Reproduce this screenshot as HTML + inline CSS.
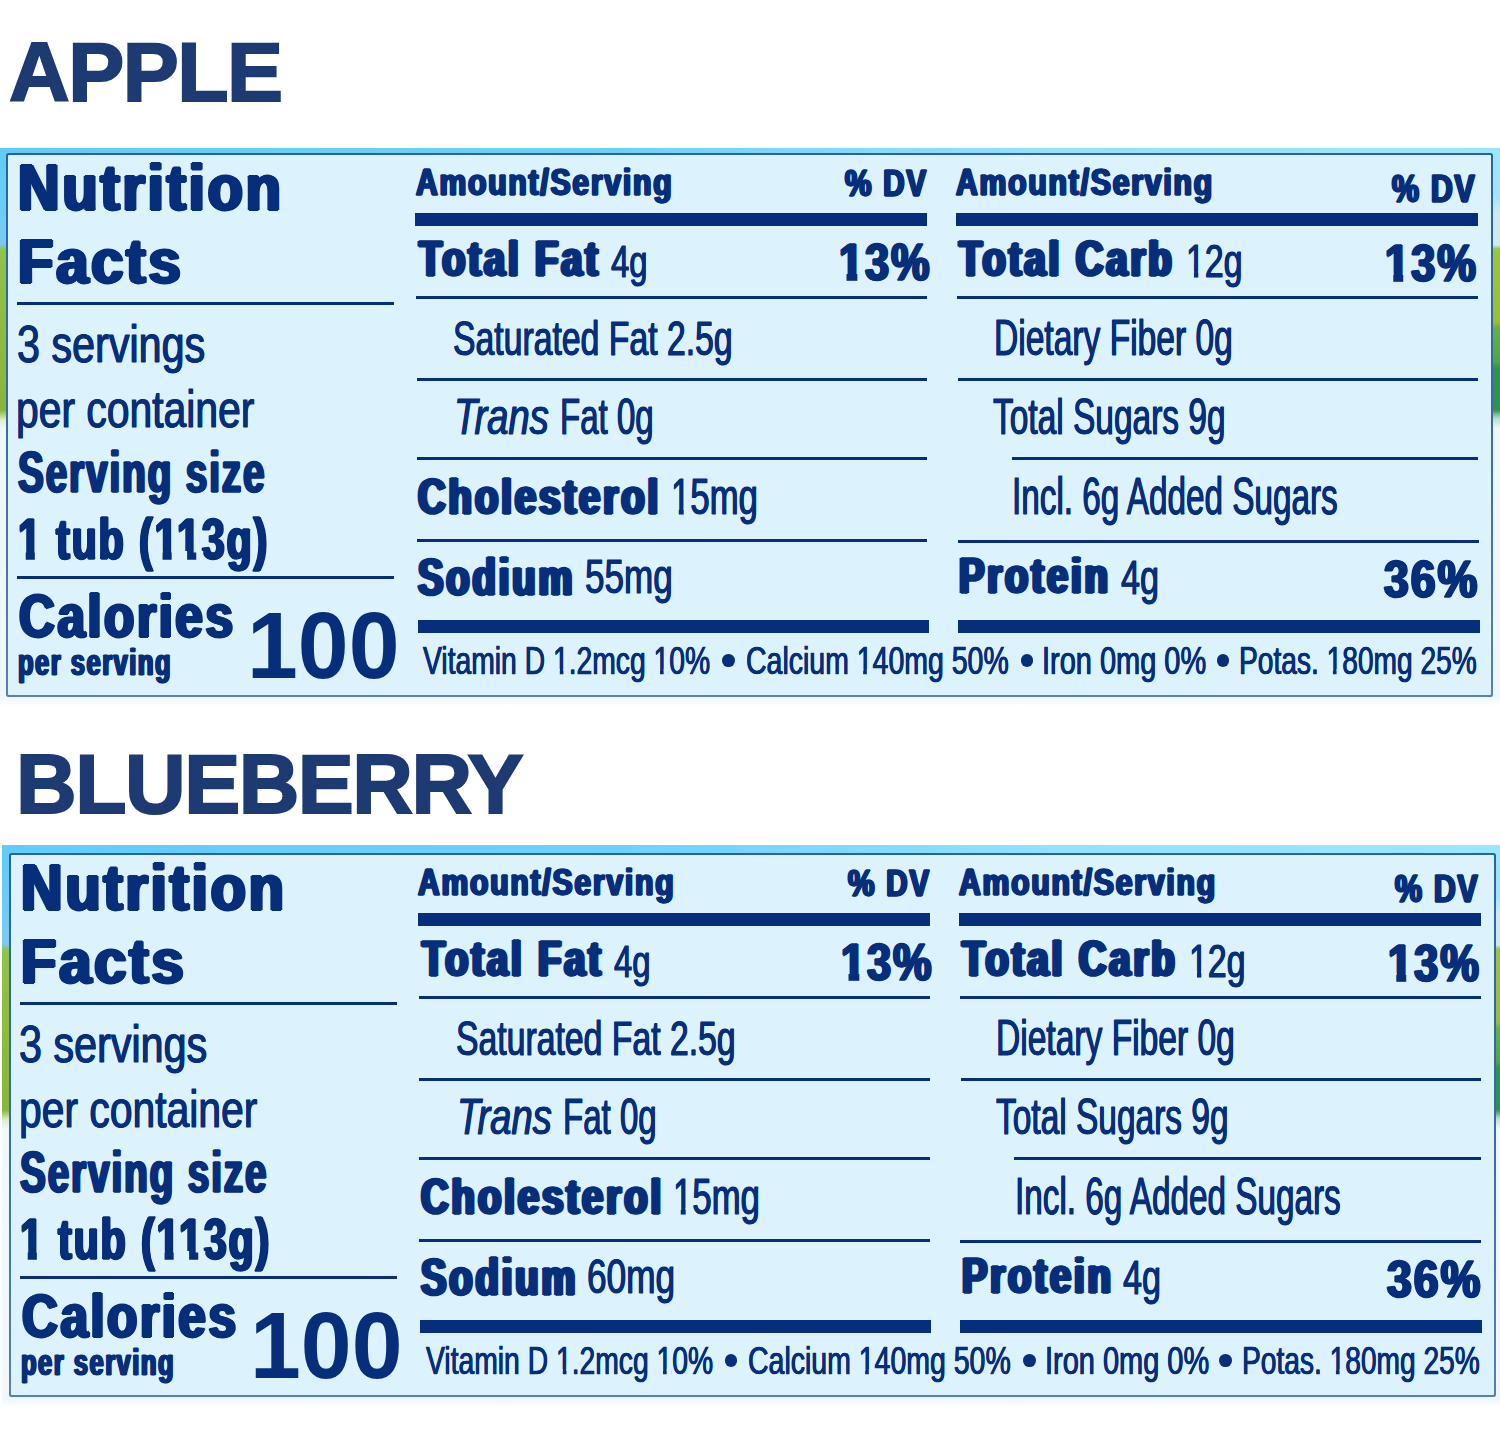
<!DOCTYPE html>
<html lang="en"><head><meta charset="utf-8"><title>Nutrition Facts - Apple / Blueberry</title>
<style>
html,body{margin:0;padding:0;background:#fff;}
body{width:1500px;height:1454px;position:relative;overflow:hidden;font-family:"Liberation Sans",sans-serif;color:#062e7a;}
.t{position:absolute;white-space:nowrap;line-height:1;transform-origin:0 0;font-weight:400;color:#062e7a;}
.b{font-weight:700;}
.i{font-style:italic;}
.r{position:absolute;background:#062e7a;}
.k{position:absolute;background:#dcf2fd;}
.dot{position:absolute;width:12.8px;height:12.8px;border-radius:50%;background:#062e7a;}
.box{position:absolute;box-sizing:border-box;background:linear-gradient(180deg,#2a62a0 0%,#3a6ba5 50%,#5a7fb0 100%);border-radius:2.5px;}
.box:before{content:"";position:absolute;left:2.1px;top:2.1px;right:2.1px;bottom:2.1px;background:#dcf2fd;border-radius:1px;}
.photo{position:absolute;overflow:hidden;background:linear-gradient(180deg,#7fd4f8 0px,#8fdcfa 6px,#eef7fc 7px,#eef7fc 100%);}
.photo:before{content:"";position:absolute;left:0;right:0;top:0;height:8px;background:linear-gradient(90deg,#62cbf9 0%,#6dd0fa 40%,#93e1fb 70%,#9ae6fc 100%);}
.photo:after{content:"";position:absolute;left:0;right:0;bottom:0;height:11px;background:linear-gradient(180deg,#edf6fc 0,#f5fafe 60%,#ffffff 100%);}
.ls{position:absolute;left:0;width:12px;height:285px;background:linear-gradient(180deg,#62cbf9 0,#6ccdf8 60px,#7cc8ef 96px,#8dc44b 102px,#8fbc3c 180px,#86b63a 262px,#dfeecb 272px,#eef7fc 280px);}
.rs{position:absolute;right:0;width:12px;height:285px;background:linear-gradient(180deg,#9ae6fc 0,#a4e3f9 48px,#cfe9f2 66px,#cfe9f2 97px,#9cc43e 101px,#97bf3a 174px,#62b24a 180px,#4fa648 214px,#2f9350 220px,#2f9350 262px,#b9dcc4 270px,#eef7fc 280px);}
svg.h{position:absolute;left:0;top:0;}
</style></head>
<body>
<div class="photo" style="left:0px;top:148px;width:1500px;height:558px"><div class="ls" style="top:0.0px"></div><div class="rs" style="top:0.0px"></div></div>
<div class="box" style="left:6.00px;top:153.00px;width:1487.40px;height:544.30px"></div>
<span class="t b" style="left:17.92px;top:156.00px;font-size:64.24px;transform:scaleX(0.8940);-webkit-text-stroke:1.80px #062e7a;letter-spacing:3.30px;text-shadow:2.20px 0 0 #062e7a,-2.20px 0 0 #062e7a,1.10px 0 0 #062e7a,-1.10px 0 0 #062e7a;">Nutrition</span>
<span class="t b" style="left:17.94px;top:229.00px;font-size:63.66px;transform:scaleX(0.9060);-webkit-text-stroke:1.80px #062e7a;letter-spacing:3.30px;text-shadow:2.20px 0 0 #062e7a,-2.20px 0 0 #062e7a,1.10px 0 0 #062e7a,-1.10px 0 0 #062e7a;">Facts</span>
<span class="t" style="left:16.65px;top:318.00px;font-size:51.98px;transform:scaleX(0.7945);-webkit-text-stroke:0.90px #062e7a;text-shadow:0.45px 0 0 #062e7a,-0.45px 0 0 #062e7a;">3 servings</span>
<span class="t" style="left:16.49px;top:383.00px;font-size:51.98px;transform:scaleX(0.7857);-webkit-text-stroke:0.90px #062e7a;text-shadow:0.45px 0 0 #062e7a,-0.45px 0 0 #062e7a;">per container</span>
<span class="t b" style="left:17.74px;top:444.00px;font-size:57.06px;transform:scaleX(0.6768);-webkit-text-stroke:1.40px #062e7a;letter-spacing:2.85px;text-shadow:1.90px 0 0 #062e7a,-1.90px 0 0 #062e7a,0.95px 0 0 #062e7a,-0.95px 0 0 #062e7a;">Serving size</span>
<span class="t b" style="left:17.65px;top:510.00px;font-size:58.28px;transform:scaleX(0.7017);-webkit-text-stroke:1.40px #062e7a;letter-spacing:2.85px;text-shadow:1.90px 0 0 #062e7a,-1.90px 0 0 #062e7a,0.95px 0 0 #062e7a,-0.95px 0 0 #062e7a;">1 tub (113g)<i class="k" style="left:-1.53px;top:40.76px;width:12.36px;height:10.54px"></i><i class="k" style="left:24.37px;top:40.76px;width:11.60px;height:10.54px"></i><i class="k" style="left:193.23px;top:40.76px;width:12.36px;height:10.54px"></i><i class="k" style="left:219.13px;top:40.76px;width:11.60px;height:10.54px"></i><i class="k" style="left:228.50px;top:40.76px;width:12.36px;height:10.54px"></i><i class="k" style="left:254.40px;top:40.76px;width:10.00px;height:10.54px"></i></span>
<span class="t b" style="left:18.98px;top:586.00px;font-size:61.10px;transform:scaleX(0.8101);-webkit-text-stroke:1.80px #062e7a;letter-spacing:3.30px;text-shadow:2.20px 0 0 #062e7a,-2.20px 0 0 #062e7a,1.10px 0 0 #062e7a,-1.10px 0 0 #062e7a;">Calories</span>
<span class="t b" style="left:17.94px;top:644.00px;font-size:37.59px;transform:scaleX(0.6775);-webkit-text-stroke:1.20px #062e7a;letter-spacing:2.25px;text-shadow:1.50px 0 0 #062e7a,-1.50px 0 0 #062e7a,0.75px 0 0 #062e7a,-0.75px 0 0 #062e7a;">per serving</span>
<span class="t b" style="left:247.44px;top:599.00px;font-size:94.19px;transform:scaleX(0.9701);">100</span>
<div class="r" style="left:17.40px;top:301.50px;width:376.60px;height:3.00px"></div>
<div class="r" style="left:17.40px;top:575.70px;width:376.60px;height:3.20px"></div>
<span class="t b" style="left:415.58px;top:164.00px;font-size:37.35px;transform:scaleX(0.8048);-webkit-text-stroke:1.30px #062e7a;letter-spacing:2.25px;text-shadow:1.50px 0 0 #062e7a,-1.50px 0 0 #062e7a,0.75px 0 0 #062e7a,-0.75px 0 0 #062e7a;">Amount/Serving</span>
<span class="t b" style="left:845.37px;top:165.00px;font-size:37.35px;transform:scaleX(0.7937);-webkit-text-stroke:1.30px #062e7a;letter-spacing:2.25px;text-shadow:1.50px 0 0 #062e7a,-1.50px 0 0 #062e7a,0.75px 0 0 #062e7a,-0.75px 0 0 #062e7a;">% DV</span>
<div class="r" style="left:415.40px;top:213.40px;width:512.00px;height:12.80px"></div>
<span class="t b" style="left:418.87px;top:235.00px;font-size:49.85px;transform:scaleX(0.7567);-webkit-text-stroke:1.70px #062e7a;letter-spacing:4.05px;text-shadow:2.70px 0 0 #062e7a,-2.70px 0 0 #062e7a,1.35px 0 0 #062e7a,-1.35px 0 0 #062e7a;">Total Fat</span>
<span class="t" style="left:610.90px;top:239.00px;font-size:45.20px;transform:scaleX(0.7271);-webkit-text-stroke:0.90px #062e7a;text-shadow:0.45px 0 0 #062e7a,-0.45px 0 0 #062e7a;">4g</span>
<span class="t b" style="left:838.73px;top:237.00px;font-size:51.60px;transform:scaleX(0.8338);-webkit-text-stroke:1.50px #062e7a;letter-spacing:2.55px;text-shadow:1.70px 0 0 #062e7a,-1.70px 0 0 #062e7a,0.85px 0 0 #062e7a,-0.85px 0 0 #062e7a;">13%<i class="k" style="left:-1.80px;top:35.39px;width:11.22px;height:9.96px"></i><i class="k" style="left:21.74px;top:35.39px;width:8.95px;height:9.96px"></i></span>
<div class="r" style="left:416.00px;top:295.50px;width:511.00px;height:3.00px"></div>
<span class="t" style="left:453.27px;top:314.00px;font-size:48.87px;transform:scaleX(0.6909);-webkit-text-stroke:0.90px #062e7a;text-shadow:0.45px 0 0 #062e7a,-0.45px 0 0 #062e7a;">Saturated Fat 2.5g</span>
<div class="r" style="left:416.50px;top:377.70px;width:510.50px;height:3.00px"></div>
<span class="t i" style="left:453.85px;top:392.00px;font-size:50.29px;transform:scaleX(0.7593);-webkit-text-stroke:0.90px #062e7a;text-shadow:0.45px 0 0 #062e7a,-0.45px 0 0 #062e7a;">Trans</span>
<span class="t" style="left:560.08px;top:392.00px;font-size:50.29px;transform:scaleX(0.6568);-webkit-text-stroke:0.90px #062e7a;text-shadow:0.45px 0 0 #062e7a,-0.45px 0 0 #062e7a;">Fat 0g</span>
<div class="r" style="left:416.50px;top:456.90px;width:510.50px;height:3.00px"></div>
<span class="t b" style="left:418.10px;top:472.00px;font-size:50.85px;transform:scaleX(0.7500);-webkit-text-stroke:1.70px #062e7a;letter-spacing:4.05px;text-shadow:2.70px 0 0 #062e7a,-2.70px 0 0 #062e7a,1.35px 0 0 #062e7a,-1.35px 0 0 #062e7a;">Cholesterol</span>
<span class="t" style="left:670.59px;top:472.00px;font-size:49.27px;transform:scaleX(0.7051);-webkit-text-stroke:0.90px #062e7a;text-shadow:0.45px 0 0 #062e7a,-0.45px 0 0 #062e7a;">15mg<i class="k" style="left:0.24px;top:36.25px;width:11.07px;height:7.80px"></i><i class="k" style="left:17.80px;top:36.25px;width:9.08px;height:7.80px"></i></span>
<div class="r" style="left:416.50px;top:539.20px;width:510.50px;height:3.00px"></div>
<span class="t b" style="left:418.49px;top:551.00px;font-size:51.98px;transform:scaleX(0.7318);-webkit-text-stroke:1.70px #062e7a;letter-spacing:4.05px;text-shadow:2.70px 0 0 #062e7a,-2.70px 0 0 #062e7a,1.35px 0 0 #062e7a,-1.35px 0 0 #062e7a;">Sodium</span>
<span class="t" style="left:584.75px;top:552.00px;font-size:48.28px;transform:scaleX(0.7266);-webkit-text-stroke:0.90px #062e7a;text-shadow:0.45px 0 0 #062e7a,-0.45px 0 0 #062e7a;">55mg</span>
<div class="r" style="left:417.50px;top:620.30px;width:511.20px;height:13.20px"></div>
<span class="t" style="left:422.90px;top:642.00px;font-size:38.66px;transform:scaleX(0.7315);-webkit-text-stroke:0.60px #062e7a;text-shadow:0.30px 0 0 #062e7a,-0.30px 0 0 #062e7a;">Vitamin D 1.2mcg 10%<i class="k" style="left:177.35px;top:27.20px;width:9.22px;height:6.70px"></i><i class="k" style="left:191.51px;top:27.20px;width:7.31px;height:6.70px"></i><i class="k" style="left:314.87px;top:27.20px;width:9.22px;height:6.70px"></i><i class="k" style="left:329.03px;top:27.20px;width:7.31px;height:6.70px"></i></span>
<span class="t" style="left:745.59px;top:642.00px;font-size:38.66px;transform:scaleX(0.7367);-webkit-text-stroke:0.60px #062e7a;text-shadow:0.30px 0 0 #062e7a,-0.30px 0 0 #062e7a;">Calcium 140mg 50%<i class="k" style="left:150.11px;top:27.20px;width:9.22px;height:6.70px"></i><i class="k" style="left:164.27px;top:27.20px;width:7.31px;height:6.70px"></i></span>
<span class="t" style="left:1042.29px;top:642.00px;font-size:38.66px;transform:scaleX(0.7491);-webkit-text-stroke:0.60px #062e7a;text-shadow:0.30px 0 0 #062e7a,-0.30px 0 0 #062e7a;">Iron 0mg 0%</span>
<span class="t" style="left:1238.83px;top:642.00px;font-size:38.66px;transform:scaleX(0.7280);-webkit-text-stroke:0.60px #062e7a;text-shadow:0.30px 0 0 #062e7a,-0.30px 0 0 #062e7a;">Potas. 180mg 25%<i class="k" style="left:120.08px;top:27.20px;width:9.22px;height:6.70px"></i><i class="k" style="left:134.24px;top:27.20px;width:7.31px;height:6.70px"></i></span>
<span class="dot" style="left:721.90px;top:654.40px"></span>
<span class="dot" style="left:1020.70px;top:654.40px"></span>
<span class="dot" style="left:1216.70px;top:654.40px"></span>
<span class="t b" style="left:955.98px;top:164.00px;font-size:37.35px;transform:scaleX(0.8066);-webkit-text-stroke:1.30px #062e7a;letter-spacing:2.25px;text-shadow:1.50px 0 0 #062e7a,-1.50px 0 0 #062e7a,0.75px 0 0 #062e7a,-0.75px 0 0 #062e7a;">Amount/Serving</span>
<span class="t b" style="left:1391.92px;top:170.00px;font-size:38.81px;transform:scaleX(0.7798);-webkit-text-stroke:1.30px #062e7a;letter-spacing:2.25px;text-shadow:1.50px 0 0 #062e7a,-1.50px 0 0 #062e7a,0.75px 0 0 #062e7a,-0.75px 0 0 #062e7a;">% DV</span>
<div class="r" style="left:956.00px;top:213.40px;width:522.00px;height:12.80px"></div>
<span class="t b" style="left:959.28px;top:235.00px;font-size:49.85px;transform:scaleX(0.7611);-webkit-text-stroke:1.70px #062e7a;letter-spacing:4.05px;text-shadow:2.70px 0 0 #062e7a,-2.70px 0 0 #062e7a,1.35px 0 0 #062e7a,-1.35px 0 0 #062e7a;">Total Carb</span>
<span class="t" style="left:1186.08px;top:238.00px;font-size:46.66px;transform:scaleX(0.7251);-webkit-text-stroke:0.90px #062e7a;text-shadow:0.45px 0 0 #062e7a,-0.45px 0 0 #062e7a;">12g<i class="k" style="left:0.05px;top:33.45px;width:10.62px;height:7.60px"></i><i class="k" style="left:16.91px;top:33.45px;width:8.64px;height:7.60px"></i></span>
<span class="t b" style="left:1385.31px;top:237.00px;font-size:52.18px;transform:scaleX(0.8290);-webkit-text-stroke:1.50px #062e7a;letter-spacing:2.55px;text-shadow:1.70px 0 0 #062e7a,-1.70px 0 0 #062e7a,0.85px 0 0 #062e7a,-0.85px 0 0 #062e7a;">13%<i class="k" style="left:-1.76px;top:36.33px;width:11.32px;height:10.02px"></i><i class="k" style="left:21.96px;top:36.33px;width:9.04px;height:10.02px"></i></span>
<div class="r" style="left:957.00px;top:295.50px;width:521.00px;height:3.00px"></div>
<span class="t" style="left:993.75px;top:313.00px;font-size:50.29px;transform:scaleX(0.6675);-webkit-text-stroke:0.90px #062e7a;text-shadow:0.45px 0 0 #062e7a,-0.45px 0 0 #062e7a;">Dietary Fiber 0g</span>
<div class="r" style="left:958.00px;top:377.70px;width:520.00px;height:3.00px"></div>
<span class="t" style="left:992.87px;top:392.00px;font-size:50.00px;transform:scaleX(0.6694);-webkit-text-stroke:0.90px #062e7a;text-shadow:0.45px 0 0 #062e7a,-0.45px 0 0 #062e7a;">Total Sugars 9g</span>
<div class="r" style="left:1011.50px;top:456.90px;width:466.50px;height:3.00px"></div>
<span class="t" style="left:1011.92px;top:471.00px;font-size:51.60px;transform:scaleX(0.6451);-webkit-text-stroke:0.90px #062e7a;text-shadow:0.45px 0 0 #062e7a,-0.45px 0 0 #062e7a;">Incl. 6g Added Sugars</span>
<div class="r" style="left:957.60px;top:539.50px;width:521.10px;height:3.00px"></div>
<span class="t b" style="left:959.13px;top:551.00px;font-size:50.44px;transform:scaleX(0.7511);-webkit-text-stroke:1.70px #062e7a;letter-spacing:4.05px;text-shadow:2.70px 0 0 #062e7a,-2.70px 0 0 #062e7a,1.35px 0 0 #062e7a,-1.35px 0 0 #062e7a;">Protein</span>
<span class="t" style="left:1120.66px;top:554.00px;font-size:47.53px;transform:scaleX(0.7205);-webkit-text-stroke:0.90px #062e7a;text-shadow:0.45px 0 0 #062e7a,-0.45px 0 0 #062e7a;">4g</span>
<span class="t b" style="left:1383.97px;top:553.00px;font-size:52.05px;transform:scaleX(0.8522);-webkit-text-stroke:1.50px #062e7a;letter-spacing:2.55px;text-shadow:1.70px 0 0 #062e7a,-1.70px 0 0 #062e7a,0.85px 0 0 #062e7a,-0.85px 0 0 #062e7a;">36%</span>
<div class="r" style="left:957.60px;top:620.30px;width:522.10px;height:13.00px"></div>
<div class="photo" style="left:2px;top:845px;width:1498px;height:561.5px"><div class="ls" style="top:3.0px"></div><div class="rs" style="top:3.0px"></div></div>
<div class="box" style="left:8.70px;top:853.00px;width:1487.40px;height:544.30px"></div>
<span class="t b" style="left:20.62px;top:856.00px;font-size:64.24px;transform:scaleX(0.8940);-webkit-text-stroke:1.80px #062e7a;letter-spacing:3.30px;text-shadow:2.20px 0 0 #062e7a,-2.20px 0 0 #062e7a,1.10px 0 0 #062e7a,-1.10px 0 0 #062e7a;">Nutrition</span>
<span class="t b" style="left:20.64px;top:929.00px;font-size:63.66px;transform:scaleX(0.9060);-webkit-text-stroke:1.80px #062e7a;letter-spacing:3.30px;text-shadow:2.20px 0 0 #062e7a,-2.20px 0 0 #062e7a,1.10px 0 0 #062e7a,-1.10px 0 0 #062e7a;">Facts</span>
<span class="t" style="left:19.35px;top:1018.00px;font-size:51.98px;transform:scaleX(0.7945);-webkit-text-stroke:0.90px #062e7a;text-shadow:0.45px 0 0 #062e7a,-0.45px 0 0 #062e7a;">3 servings</span>
<span class="t" style="left:19.19px;top:1083.00px;font-size:51.98px;transform:scaleX(0.7857);-webkit-text-stroke:0.90px #062e7a;text-shadow:0.45px 0 0 #062e7a,-0.45px 0 0 #062e7a;">per container</span>
<span class="t b" style="left:20.44px;top:1144.00px;font-size:57.06px;transform:scaleX(0.6768);-webkit-text-stroke:1.40px #062e7a;letter-spacing:2.85px;text-shadow:1.90px 0 0 #062e7a,-1.90px 0 0 #062e7a,0.95px 0 0 #062e7a,-0.95px 0 0 #062e7a;">Serving size</span>
<span class="t b" style="left:20.35px;top:1210.00px;font-size:58.28px;transform:scaleX(0.7017);-webkit-text-stroke:1.40px #062e7a;letter-spacing:2.85px;text-shadow:1.90px 0 0 #062e7a,-1.90px 0 0 #062e7a,0.95px 0 0 #062e7a,-0.95px 0 0 #062e7a;">1 tub (113g)<i class="k" style="left:-1.53px;top:40.76px;width:12.36px;height:10.54px"></i><i class="k" style="left:24.37px;top:40.76px;width:11.60px;height:10.54px"></i><i class="k" style="left:193.23px;top:40.76px;width:12.36px;height:10.54px"></i><i class="k" style="left:219.13px;top:40.76px;width:11.60px;height:10.54px"></i><i class="k" style="left:228.50px;top:40.76px;width:12.36px;height:10.54px"></i><i class="k" style="left:254.40px;top:40.76px;width:10.00px;height:10.54px"></i></span>
<span class="t b" style="left:21.68px;top:1286.00px;font-size:61.10px;transform:scaleX(0.8101);-webkit-text-stroke:1.80px #062e7a;letter-spacing:3.30px;text-shadow:2.20px 0 0 #062e7a,-2.20px 0 0 #062e7a,1.10px 0 0 #062e7a,-1.10px 0 0 #062e7a;">Calories</span>
<span class="t b" style="left:20.64px;top:1344.00px;font-size:37.59px;transform:scaleX(0.6775);-webkit-text-stroke:1.20px #062e7a;letter-spacing:2.25px;text-shadow:1.50px 0 0 #062e7a,-1.50px 0 0 #062e7a,0.75px 0 0 #062e7a,-0.75px 0 0 #062e7a;">per serving</span>
<span class="t b" style="left:250.14px;top:1299.00px;font-size:94.19px;transform:scaleX(0.9701);">100</span>
<div class="r" style="left:20.10px;top:1001.50px;width:376.60px;height:3.00px"></div>
<div class="r" style="left:20.10px;top:1275.70px;width:376.60px;height:3.20px"></div>
<span class="t b" style="left:418.28px;top:864.00px;font-size:37.35px;transform:scaleX(0.8048);-webkit-text-stroke:1.30px #062e7a;letter-spacing:2.25px;text-shadow:1.50px 0 0 #062e7a,-1.50px 0 0 #062e7a,0.75px 0 0 #062e7a,-0.75px 0 0 #062e7a;">Amount/Serving</span>
<span class="t b" style="left:848.07px;top:865.00px;font-size:37.35px;transform:scaleX(0.7937);-webkit-text-stroke:1.30px #062e7a;letter-spacing:2.25px;text-shadow:1.50px 0 0 #062e7a,-1.50px 0 0 #062e7a,0.75px 0 0 #062e7a,-0.75px 0 0 #062e7a;">% DV</span>
<div class="r" style="left:418.10px;top:913.40px;width:512.00px;height:12.80px"></div>
<span class="t b" style="left:421.57px;top:935.00px;font-size:49.85px;transform:scaleX(0.7567);-webkit-text-stroke:1.70px #062e7a;letter-spacing:4.05px;text-shadow:2.70px 0 0 #062e7a,-2.70px 0 0 #062e7a,1.35px 0 0 #062e7a,-1.35px 0 0 #062e7a;">Total Fat</span>
<span class="t" style="left:613.60px;top:939.00px;font-size:45.20px;transform:scaleX(0.7271);-webkit-text-stroke:0.90px #062e7a;text-shadow:0.45px 0 0 #062e7a,-0.45px 0 0 #062e7a;">4g</span>
<span class="t b" style="left:841.43px;top:937.00px;font-size:51.60px;transform:scaleX(0.8338);-webkit-text-stroke:1.50px #062e7a;letter-spacing:2.55px;text-shadow:1.70px 0 0 #062e7a,-1.70px 0 0 #062e7a,0.85px 0 0 #062e7a,-0.85px 0 0 #062e7a;">13%<i class="k" style="left:-1.80px;top:35.39px;width:11.22px;height:9.96px"></i><i class="k" style="left:21.74px;top:35.39px;width:8.95px;height:9.96px"></i></span>
<div class="r" style="left:418.70px;top:995.50px;width:511.00px;height:3.00px"></div>
<span class="t" style="left:455.97px;top:1014.00px;font-size:48.87px;transform:scaleX(0.6909);-webkit-text-stroke:0.90px #062e7a;text-shadow:0.45px 0 0 #062e7a,-0.45px 0 0 #062e7a;">Saturated Fat 2.5g</span>
<div class="r" style="left:419.20px;top:1077.70px;width:510.50px;height:3.00px"></div>
<span class="t i" style="left:456.55px;top:1092.00px;font-size:50.29px;transform:scaleX(0.7593);-webkit-text-stroke:0.90px #062e7a;text-shadow:0.45px 0 0 #062e7a,-0.45px 0 0 #062e7a;">Trans</span>
<span class="t" style="left:562.78px;top:1092.00px;font-size:50.29px;transform:scaleX(0.6568);-webkit-text-stroke:0.90px #062e7a;text-shadow:0.45px 0 0 #062e7a,-0.45px 0 0 #062e7a;">Fat 0g</span>
<div class="r" style="left:419.20px;top:1156.90px;width:510.50px;height:3.00px"></div>
<span class="t b" style="left:420.80px;top:1172.00px;font-size:50.85px;transform:scaleX(0.7500);-webkit-text-stroke:1.70px #062e7a;letter-spacing:4.05px;text-shadow:2.70px 0 0 #062e7a,-2.70px 0 0 #062e7a,1.35px 0 0 #062e7a,-1.35px 0 0 #062e7a;">Cholesterol</span>
<span class="t" style="left:673.29px;top:1172.00px;font-size:49.27px;transform:scaleX(0.7051);-webkit-text-stroke:0.90px #062e7a;text-shadow:0.45px 0 0 #062e7a,-0.45px 0 0 #062e7a;">15mg<i class="k" style="left:0.24px;top:36.25px;width:11.07px;height:7.80px"></i><i class="k" style="left:17.80px;top:36.25px;width:9.08px;height:7.80px"></i></span>
<div class="r" style="left:419.20px;top:1239.20px;width:510.50px;height:3.00px"></div>
<span class="t b" style="left:421.19px;top:1251.00px;font-size:51.98px;transform:scaleX(0.7318);-webkit-text-stroke:1.70px #062e7a;letter-spacing:4.05px;text-shadow:2.70px 0 0 #062e7a,-2.70px 0 0 #062e7a,1.35px 0 0 #062e7a,-1.35px 0 0 #062e7a;">Sodium</span>
<span class="t" style="left:587.07px;top:1253.00px;font-size:47.60px;transform:scaleX(0.7402);-webkit-text-stroke:0.90px #062e7a;text-shadow:0.45px 0 0 #062e7a,-0.45px 0 0 #062e7a;">60mg</span>
<div class="r" style="left:420.20px;top:1320.30px;width:511.20px;height:13.20px"></div>
<span class="t" style="left:425.60px;top:1342.00px;font-size:38.66px;transform:scaleX(0.7315);-webkit-text-stroke:0.60px #062e7a;text-shadow:0.30px 0 0 #062e7a,-0.30px 0 0 #062e7a;">Vitamin D 1.2mcg 10%<i class="k" style="left:177.35px;top:27.20px;width:9.22px;height:6.70px"></i><i class="k" style="left:191.51px;top:27.20px;width:7.31px;height:6.70px"></i><i class="k" style="left:314.87px;top:27.20px;width:9.22px;height:6.70px"></i><i class="k" style="left:329.03px;top:27.20px;width:7.31px;height:6.70px"></i></span>
<span class="t" style="left:748.29px;top:1342.00px;font-size:38.66px;transform:scaleX(0.7367);-webkit-text-stroke:0.60px #062e7a;text-shadow:0.30px 0 0 #062e7a,-0.30px 0 0 #062e7a;">Calcium 140mg 50%<i class="k" style="left:150.11px;top:27.20px;width:9.22px;height:6.70px"></i><i class="k" style="left:164.27px;top:27.20px;width:7.31px;height:6.70px"></i></span>
<span class="t" style="left:1044.99px;top:1342.00px;font-size:38.66px;transform:scaleX(0.7491);-webkit-text-stroke:0.60px #062e7a;text-shadow:0.30px 0 0 #062e7a,-0.30px 0 0 #062e7a;">Iron 0mg 0%</span>
<span class="t" style="left:1241.53px;top:1342.00px;font-size:38.66px;transform:scaleX(0.7280);-webkit-text-stroke:0.60px #062e7a;text-shadow:0.30px 0 0 #062e7a,-0.30px 0 0 #062e7a;">Potas. 180mg 25%<i class="k" style="left:120.08px;top:27.20px;width:9.22px;height:6.70px"></i><i class="k" style="left:134.24px;top:27.20px;width:7.31px;height:6.70px"></i></span>
<span class="dot" style="left:724.60px;top:1354.40px"></span>
<span class="dot" style="left:1023.40px;top:1354.40px"></span>
<span class="dot" style="left:1219.40px;top:1354.40px"></span>
<span class="t b" style="left:958.68px;top:864.00px;font-size:37.35px;transform:scaleX(0.8066);-webkit-text-stroke:1.30px #062e7a;letter-spacing:2.25px;text-shadow:1.50px 0 0 #062e7a,-1.50px 0 0 #062e7a,0.75px 0 0 #062e7a,-0.75px 0 0 #062e7a;">Amount/Serving</span>
<span class="t b" style="left:1394.62px;top:870.00px;font-size:38.81px;transform:scaleX(0.7798);-webkit-text-stroke:1.30px #062e7a;letter-spacing:2.25px;text-shadow:1.50px 0 0 #062e7a,-1.50px 0 0 #062e7a,0.75px 0 0 #062e7a,-0.75px 0 0 #062e7a;">% DV</span>
<div class="r" style="left:958.70px;top:913.40px;width:522.00px;height:12.80px"></div>
<span class="t b" style="left:961.98px;top:935.00px;font-size:49.85px;transform:scaleX(0.7611);-webkit-text-stroke:1.70px #062e7a;letter-spacing:4.05px;text-shadow:2.70px 0 0 #062e7a,-2.70px 0 0 #062e7a,1.35px 0 0 #062e7a,-1.35px 0 0 #062e7a;">Total Carb</span>
<span class="t" style="left:1188.78px;top:938.00px;font-size:46.66px;transform:scaleX(0.7251);-webkit-text-stroke:0.90px #062e7a;text-shadow:0.45px 0 0 #062e7a,-0.45px 0 0 #062e7a;">12g<i class="k" style="left:0.05px;top:33.45px;width:10.62px;height:7.60px"></i><i class="k" style="left:16.91px;top:33.45px;width:8.64px;height:7.60px"></i></span>
<span class="t b" style="left:1388.01px;top:937.00px;font-size:52.18px;transform:scaleX(0.8290);-webkit-text-stroke:1.50px #062e7a;letter-spacing:2.55px;text-shadow:1.70px 0 0 #062e7a,-1.70px 0 0 #062e7a,0.85px 0 0 #062e7a,-0.85px 0 0 #062e7a;">13%<i class="k" style="left:-1.76px;top:36.33px;width:11.32px;height:10.02px"></i><i class="k" style="left:21.96px;top:36.33px;width:9.04px;height:10.02px"></i></span>
<div class="r" style="left:959.70px;top:995.50px;width:521.00px;height:3.00px"></div>
<span class="t" style="left:996.45px;top:1013.00px;font-size:50.29px;transform:scaleX(0.6675);-webkit-text-stroke:0.90px #062e7a;text-shadow:0.45px 0 0 #062e7a,-0.45px 0 0 #062e7a;">Dietary Fiber 0g</span>
<div class="r" style="left:960.70px;top:1077.70px;width:520.00px;height:3.00px"></div>
<span class="t" style="left:995.57px;top:1092.00px;font-size:50.00px;transform:scaleX(0.6694);-webkit-text-stroke:0.90px #062e7a;text-shadow:0.45px 0 0 #062e7a,-0.45px 0 0 #062e7a;">Total Sugars 9g</span>
<div class="r" style="left:1014.20px;top:1156.90px;width:466.50px;height:3.00px"></div>
<span class="t" style="left:1014.62px;top:1171.00px;font-size:51.60px;transform:scaleX(0.6451);-webkit-text-stroke:0.90px #062e7a;text-shadow:0.45px 0 0 #062e7a,-0.45px 0 0 #062e7a;">Incl. 6g Added Sugars</span>
<div class="r" style="left:960.30px;top:1239.50px;width:521.10px;height:3.00px"></div>
<span class="t b" style="left:961.83px;top:1251.00px;font-size:50.44px;transform:scaleX(0.7511);-webkit-text-stroke:1.70px #062e7a;letter-spacing:4.05px;text-shadow:2.70px 0 0 #062e7a,-2.70px 0 0 #062e7a,1.35px 0 0 #062e7a,-1.35px 0 0 #062e7a;">Protein</span>
<span class="t" style="left:1123.36px;top:1254.00px;font-size:47.53px;transform:scaleX(0.7205);-webkit-text-stroke:0.90px #062e7a;text-shadow:0.45px 0 0 #062e7a,-0.45px 0 0 #062e7a;">4g</span>
<span class="t b" style="left:1386.67px;top:1253.00px;font-size:52.05px;transform:scaleX(0.8522);-webkit-text-stroke:1.50px #062e7a;letter-spacing:2.55px;text-shadow:1.70px 0 0 #062e7a,-1.70px 0 0 #062e7a,0.85px 0 0 #062e7a,-0.85px 0 0 #062e7a;">36%</span>
<div class="r" style="left:960.30px;top:1320.30px;width:522.10px;height:13.00px"></div>
<h1 class="t b" style="left:9px;top:30px;font-size:84px;margin:0;letter-spacing:-1.5px;color:#1e3a73;-webkit-text-stroke:2px #1e3a73;">APPLE</h1>
<h1 class="t b" style="left:16px;top:742px;font-size:84px;margin:0;letter-spacing:-1.5px;color:#1e3a73;-webkit-text-stroke:2px #1e3a73;">BLUEBERRY</h1>
</body></html>
